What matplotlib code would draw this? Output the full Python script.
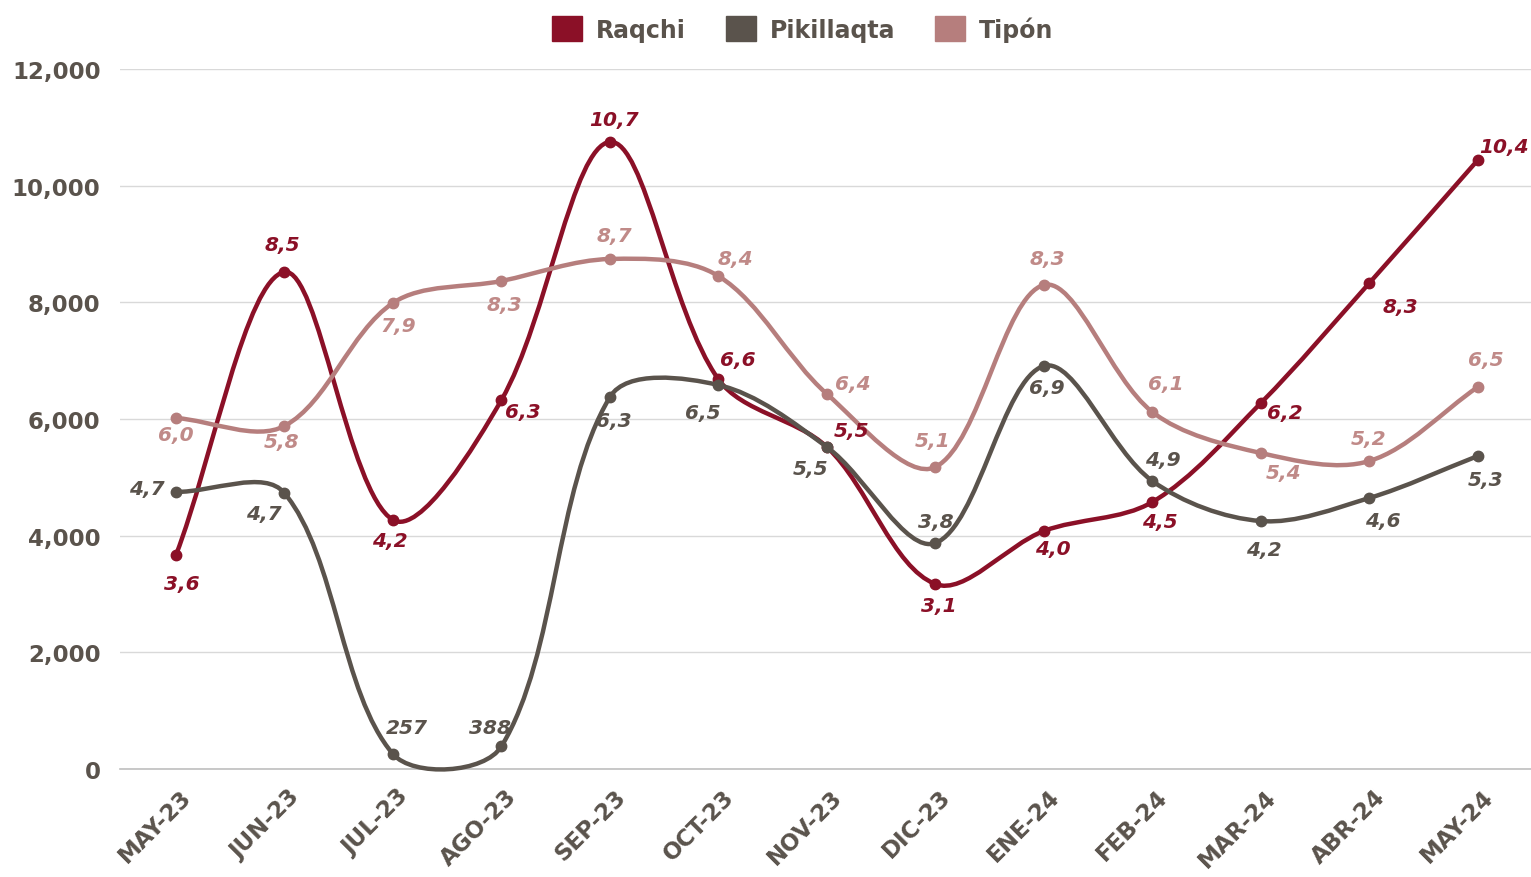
import matplotlib
matplotlib.use("Agg")
import matplotlib.pyplot as plt
import numpy as np
from matplotlib.path import Path
from matplotlib.patches import PathPatch, Patch
import matplotlib.transforms as mtransforms

# ---------------- data ----------------
months = ["MAY-23", "JUN-23", "JUL-23", "AGO-23", "SEP-23", "OCT-23", "NOV-23",
          "DIC-23", "ENE-24", "FEB-24", "MAR-24", "ABR-24", "MAY-24"]
raqchi = [3668, 8520, 4270, 6326, 10750, 6680, 5520, 3170, 4080, 4577, 6274, 8331, 10440]
pikillaqta = [4750, 4730, 257, 388, 6377, 6583, 5520, 3874, 6909, 4937, 4251, 4646, 5366]
tipon = [6017, 5880, 7989, 8366, 8743, 8451, 6429, 5177, 8297, 6120, 5417, 5280, 6549]
raqchi_labels = ["3,6", "8,5", "4,2", "6,3", "10,7", "6,6", "5,5", "3,1", "4,0", "4,5", "6,2", "8,3", "10,4"]
pikillaqta_labels = ["4,7", "4,7", "257", "388", "6,3", "6,5", "5,5", "3,8", "6,9", "4,9", "4,2", "4,6", "5,3"]
tipon_labels = ["6,0", "5,8", "7,9", "8,3", "8,7", "8,4", "6,4", "5,1", "8,3", "6,1", "5,4", "5,2", "6,5"]
series_names = ["Raqchi", "Pikillaqta", "Tipón"]
yticks = [0, 2000, 4000, 6000, 8000, 10000, 12000]

# ---------------- style / placement ----------------
colors = ["#8B1027", "#5A534C", "#B67E7D"]
label_colors = ["#8B1027", "#5A534C", "#C08A88"]
# label offsets in pixels (dx, dy-up)
raqchi_off = [(6, -28), (-2, 28), (-3, -21), (21, -12), (4, 22), (19, 20), (25, 16),
              (3, -21), (9, -18), (7, -19), (24, -9), (31, -23), (26, 13)]
pikillaqta_off = [(-29, 3), (-21, -20), (14, 27), (-11, 19), (4, -23), (-16, -28), (-16, -22),
                  (0, 22), (3, -22), (10, 22), (3, -28), (13, -23), (8, -24)]
tipon_off = [(0, -16), (-3, -16), (5, -23), (3, -24), (4, 23), (17, 18), (26, 10),
             (-3, 27), (3, 27), (13, 28), (23, -19), (-1, 22), (8, 27)]

FONT = ["DejaVu Sans"]
plt.rcParams["font.family"] = FONT

W, H = 1531, 878
fig = plt.figure(figsize=(W / 100, H / 100), dpi=100)
ax = fig.add_axes([120 / W, (H - 770) / H, (W - 120) / W, 700 / H])
ax.set_xlim(-0.516, 12.49)
ax.set_ylim(0, 12000)

for s in ["top", "right", "left"]:
    ax.spines[s].set_visible(False)
ax.spines["bottom"].set_color("#BFBFBF")
ax.spines["bottom"].set_linewidth(1.2)
ax.set_yticks(yticks)
ax.set_yticklabels([f"{v:,}" for v in yticks])
ax.grid(axis="y", color="#D9D9D9", linewidth=1.0)
ax.set_axisbelow(True)
ax.tick_params(axis="y", length=0, pad=14, labelsize=16.5, labelcolor="#5A534C")
ax.tick_params(axis="x", length=0, pad=17, labelsize=16.5, labelcolor="#5A534C")
x = np.arange(len(months))
ax.set_xticks(x)
ax.set_xticklabels(months, rotation=45, ha="right", va="center", rotation_mode="anchor")
for lab in ax.get_yticklabels():
    lab.set_fontweight("bold")
off = mtransforms.ScaledTranslation(0.12, 0, fig.dpi_scale_trans)
for lab in ax.get_xticklabels():
    lab.set_fontweight("bold")
    lab.set_transform(lab.get_transform() + off)


def smooth_path(xs, ys):
    pts = ax.transData.transform(np.column_stack([xs, ys]))
    n = len(pts)
    verts = [pts[0]]
    codes = [Path.MOVETO]
    for i in range(n - 1):
        p0 = pts[i - 1] if i > 0 else pts[i]
        p1 = pts[i]
        p2 = pts[i + 1]
        p3 = pts[i + 2] if i + 2 < n else pts[i + 1]
        d01 = np.hypot(*(p1 - p0))
        d12 = np.hypot(*(p2 - p1))
        d23 = np.hypot(*(p3 - p2))
        f1 = d12 / (d01 + d12) / 3 if d01 + d12 > 0 else 0
        f2 = d12 / (d12 + d23) / 3 if d12 + d23 > 0 else 0
        c1 = p1 + (p2 - p0) * f1
        c2 = p2 - (p3 - p1) * f2
        verts += [c1, c2, p2]
        codes += [Path.CURVE4] * 3
    verts = ax.transData.inverted().transform(np.array(verts))
    return Path(verts, codes)


all_vals = [raqchi, pikillaqta, tipon]
all_labels = [raqchi_labels, pikillaqta_labels, tipon_labels]
all_offs = [raqchi_off, pikillaqta_off, tipon_off]
for k, (vals, labs, offs) in enumerate(zip(all_vals, all_labels, all_offs)):
    z = 3 + k
    p = PathPatch(smooth_path(x, vals), fill=False, edgecolor=colors[k], lw=3.2,
                  capstyle="round", joinstyle="round", clip_on=False, zorder=z)
    ax.add_patch(p)
    ax.plot(x, vals, "o", ms=7.5, color=colors[k], zorder=z + 0.1, clip_on=False)
    for xi, v, t, (dx, dy) in zip(x, vals, labs, offs):
        ax.annotate(t, (xi, v), xytext=(dx, dy), textcoords="offset pixels",
                    ha="center", va="center", fontsize=14.5, fontweight="bold",
                    fontstyle="italic", color=label_colors[k], zorder=10)

handles = [Patch(facecolor=c, edgecolor=c) for c in colors]
leg = fig.legend(handles, series_names, loc="center", bbox_to_anchor=(0.5245, 0.966),
                 ncol=3, frameon=False, handlelength=1.25, handleheight=1.25,
                 columnspacing=1.7, handletextpad=0.6,
                 prop={"weight": "bold", "size": 17})
for t in leg.get_texts():
    t.set_color("#5A534C")

fig.savefig("out.png", dpi=100)
